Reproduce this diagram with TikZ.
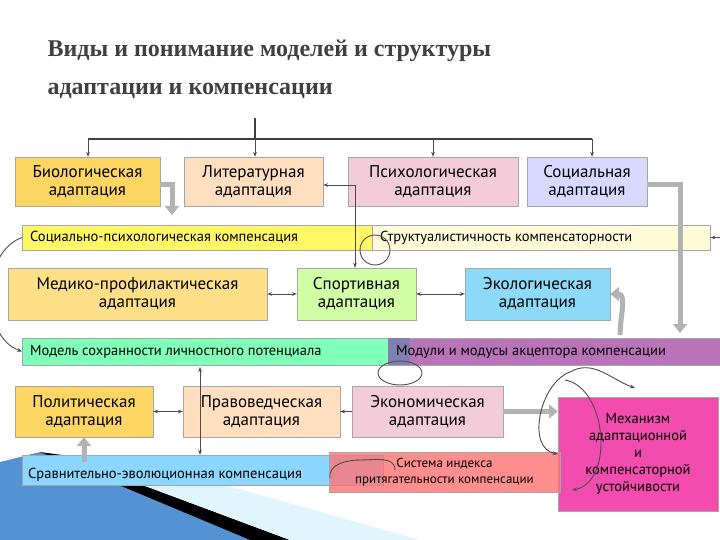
\documentclass[tikz,border=0pt]{standalone}
\usepackage{fontspec}
\setmainfont{PT Sans}
\newfontfamily\titlefont{Liberation Serif}
\usetikzlibrary{arrows.meta}
\begin{document}
\begin{tikzpicture}[x=1pt,y=-1pt,
 bx/.style={draw=gray!70,align=center,inner sep=1pt,font=\fontsize{17}{18}\selectfont},
 sbx/.style={draw=gray!70,anchor=west,inner sep=0pt,font=\fontsize{14.5}{15}\selectfont},
 con/.style={draw=black!70,line width=0.9pt,-{Stealth[length=5pt]}},
 dcon/.style={draw=black!70,line width=0.9pt,{Stealth[length=5pt]}-{Stealth[length=5pt]}},
 thick/.style={draw=gray!60,line width=5pt,-{Triangle[length=9pt,width=14pt]}},
 loopc/.style={draw=black!70,line width=0.9pt}]
\useasboundingbox (0,0) rectangle (720,540);
\fill[white] (0,0) rectangle (720,540);
% decorative swoosh
\fill[cyan!55!blue!70] (0,462) -- (40,452) -- (250,540) -- (0,540) -- cycle;
\fill[black] (40,452) -- (62,455) -- (290,540) -- (250,540) -- cycle;
\fill[cyan!12] (62,455) -- (200,478) -- (420,540) -- (290,540) -- cycle;
% title
\node[anchor=west,font=\titlefont\bfseries\fontsize{24}{38}\selectfont,text=black!75,align=left] (title) at (44,69) {Виды и понимание моделей и структуры\\адаптации и компенсации};
% row 1
\node[bx,fill=yellow!50!orange!60,minimum width=145,minimum height=49] (bio) at (87.5,181.5) {Биологическая\\адаптация};
\node[bx,fill=orange!25,minimum width=139,minimum height=49] (lit) at (253.5,181.5) {Литературная\\адаптация};
\node[bx,fill=purple!20,minimum width=170,minimum height=49] (psy) at (433,181.5) {Психологическая\\адаптация};
\node[bx,fill=blue!15,minimum width=120,minimum height=49] (soc) at (587,181.5) {Социальная\\адаптация};
% row 2
\node[sbx,fill=yellow!60,minimum width=350,minimum height=25] (spk) at (22,237.5) {};
\node[anchor=west,inner sep=0pt,font=\fontsize{14.5}{15}\selectfont] (spkt) at (30,237.5) {Социально-психологическая компенсация};
\node[sbx,fill=yellow!15,minimum width=338,minimum height=25] (str) at (372,237.5) {};
\node[anchor=west,inner sep=0pt,font=\fontsize{14.5}{15}\selectfont] (strt) at (380,237.5) {Структуалистичность компенсаторности};
% row 3
\node[bx,fill=yellow!50!orange!45,minimum width=259,minimum height=52] (med) at (137.5,294) {Медико-профилактическая\\адаптация};
\node[bx,fill=green!50!yellow!35,minimum width=119,minimum height=52] (spo) at (356.5,294) {Спортивная\\адаптация};
\node[bx,fill=cyan!45,minimum width=145,minimum height=52] (eco) at (537.5,294) {Экологическая\\адаптация};
% row 4
\node[sbx,fill=green!55!cyan!50,minimum width=373,minimum height=27] (mod) at (22,351.5) {};
\node[sbx,fill=violet!55,minimum width=332,minimum height=27] (mdl) at (388,351.5) {};
\fill[blue!40!black!50] (388,338) rectangle (410,365);
\node[anchor=west,inner sep=0pt,font=\fontsize{14.5}{15}\selectfont] (modt) at (30,351.5) {Модель сохранности личностного потенциала};
\node[anchor=west,inner sep=0pt,font=\fontsize{14.5}{15}\selectfont] (mdlt) at (396,351.5) {Модули и модусы акцептора компенсации};
\fill[white] (720,330) rectangle (760,370);
% row 5
\node[bx,fill=yellow!50!orange!60,minimum width=138,minimum height=51] (pol) at (84,411.5) {Политическая\\адаптация};
\node[bx,fill=orange!25,minimum width=157,minimum height=51] (pra) at (261.5,411.5) {Правоведческая\\адаптация};
\node[bx,fill=purple!20,minimum width=151,minimum height=51] (ekn) at (427.5,411.5) {Экономическая\\адаптация};
\node[bx,fill=magenta!70,minimum width=160,minimum height=114,font=\fontsize{14.5}{17}\selectfont] (mec) at (638,454) {Механизм\\адаптационной\\и\\компенсаторной\\устойчивости};
\node[sbx,fill=blue!35!cyan!45,minimum width=361,minimum height=30] (srv) at (22,470) {};
\node[anchor=west,inner sep=0pt,font=\fontsize{14.5}{15}\selectfont] (srvt) at (28,475) {Сравнительно-эволюционная компенсация};
\node[draw=gray!70,fill=red!55,fill opacity=0.8,text opacity=1,align=center,minimum width=231,minimum height=40,inner sep=1pt,font=\fontsize{13}{16}\selectfont] (sys) at (444.5,472) {Система индекса\\притягательности компенсации};
% top tree
\coordinate (t0) at (255,118);
\coordinate (t1) at (255,139);
\draw[black!75,line width=1.2pt] (88,139) -- (592,139);
\draw[black!75,line width=1.2pt] (t0) -- (t1);
\foreach \n/\x in {bio/88,lit/255,psy/433,soc/592}
  \draw[con] (\x,139) -- (\n.north -| \x,0);
% connectors
\coordinate (v1) at (355,185);
\draw[con] (v1) -- (lit.east |- v1);
\draw[con] (v1) -- (spo.north -| v1);
\draw[loopc] (375,250) circle (15);
\draw[dcon] (med) -- (spo);
\draw[dcon] (spo) -- (eco);
\draw[dcon] (pol) -- (pra);
\draw[con] (ekn) -- (pra);
\draw[con] (spk.west) to[out=200,in=160] (mod.west);
\draw[con] (730,237.5) -- (str.east);
\draw[thick] (bio.east |- 0,185) -- (172,185) -- (172,215);
\draw[thick] (soc.east |- 0,185) -- (680,185) -- (680,333);
\draw[thick] (620,335) to[out=90,in=0] (eco.east);
\draw[thick] (pol.south |- 0,462) -- (pol.south);
\draw[thick] (ekn.east) -- (mec.west |- ekn.east);
\coordinate (pv) at (200,392);
\draw[con] (pv) -- (200,367);
\draw[con] (pv) -- (srv.north -| pv);
\draw[loopc] (400,373) ellipse (22 and 12);
\draw[loopc] (330,478) to[out=100,in=180] (360,460) to[out=0,in=90] (395,470);
\draw[con] (570,372) to[out=30,in=160] (635,388);
\draw[con] (570,372) to[out=200,in=170] (mec.west);
\draw[con] (565,380) to[out=-10,in=10] (572,490);
\end{tikzpicture}
\end{document}
